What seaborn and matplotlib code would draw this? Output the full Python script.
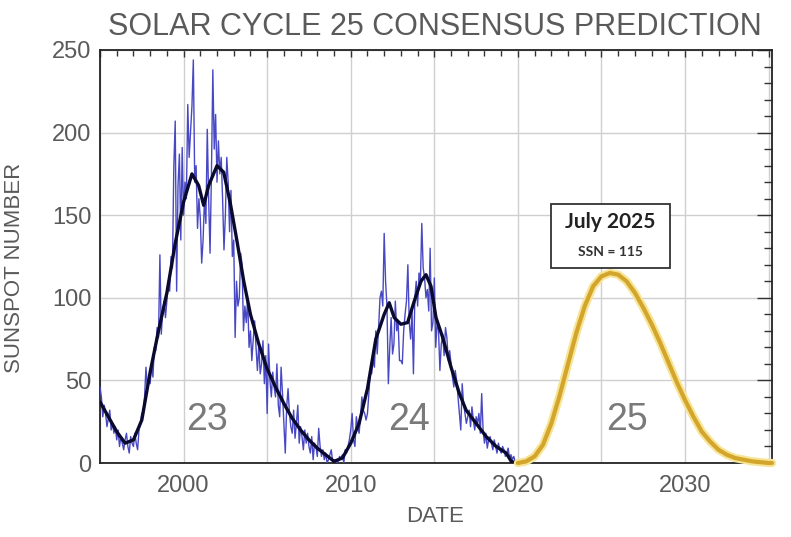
import numpy as np
import pandas as pd
import matplotlib
matplotlib.use("Agg")
import matplotlib.pyplot as plt
import seaborn as sns
from matplotlib.ticker import MultipleLocator, FuncFormatter
from matplotlib.patches import Rectangle

# ---------------- data ----------------
# Monthly sunspot numbers, Jan 1995 .. Dec 2019 (12 values per year)
monthly_ssn = [
    # 1995
    46, 40, 28, 35, 30, 22, 27, 32, 20, 24, 18, 22,
    # 1996
    14, 20, 10, 16, 12, 8, 14, 18, 10, 6, 16, 12,
    # 1997
    10, 18, 12, 8, 20, 24, 30, 28, 40, 58, 45, 52,
    # 1998
    48, 60, 52, 70, 68, 82, 76, 126, 78, 92, 98, 88,
    # 1999
    98, 110, 104, 125, 118, 180, 207, 104, 168, 187, 135, 191,
    # 2000
    150, 170, 160, 217, 185, 200, 216, 244, 170, 180, 142, 160,
    # 2001
    148, 121, 135, 160, 145, 202, 160, 127, 175, 238, 190, 211,
    # 2002
    170, 195, 175, 185, 160, 129, 150, 185, 170, 140, 165, 125,
    # 2003
    135, 76, 110, 95, 100, 127, 120, 80, 95, 85, 100, 70,
    # 2004
    80, 62, 75, 86, 70, 56, 72, 54, 60, 74, 48, 65,
    # 2005
    30, 72, 50, 40, 55, 46, 40, 60, 35, 28, 58, 42,
    # 2006
    24, 6, 34, 45, 30, 22, 18, 32, 15, 24, 35, 12,
    # 2007
    22, 16, 8, 20, 12, 18, 10, 6, 16, 2, 12, 10,
    # 2008
    4, 21, 10, 4, 8, 2, 6, 0, 2, 5, 8, 1,
    # 2009
    2, 1, 0, 1, 4, 3, 5, 0, 8, 6, 10, 14,
    # 2010
    20, 30, 14, 10, 28, 22, 18, 28, 40, 32, 30, 26,
    # 2011
    30, 42, 55, 54, 62, 58, 80, 66, 82, 100, 104, 95,
    # 2012
    139, 110, 95, 48, 70, 88, 66, 72, 98, 80, 86, 62,
    # 2013
    62, 60, 80, 90, 98, 120, 85, 75, 92, 54, 100, 110,
    # 2014
    95, 115, 110, 145, 118, 112, 100, 105, 92, 130, 80, 85,
    # 2015
    112, 70, 85, 80, 56, 72, 78, 65, 82, 76, 62, 68,
    # 2016
    60, 52, 46, 56, 50, 40, 30, 20, 48, 36, 30, 24,
    # 2017
    28, 32, 22, 34, 26, 20, 28, 24, 30, 18, 42, 20,
    # 2018
    12, 18, 9, 14, 16, 12, 8, 14, 10, 6, 12, 8,
    # 2019
    6, 10, 8, 4, 6, 9, 3, 5, 2, 4, 1, 0,
]
monthly_year = 1995 + np.arange(len(monthly_ssn)) / 12.0

# Smoothed sunspot number (cycles 23 and 24)
smooth_year = [1995.0, 1995.5, 1996.0, 1996.5, 1997.0, 1997.5, 1998.0, 1998.5,
               1999.0, 1999.5, 2000.0, 2000.5, 2000.9, 2001.2, 2001.5, 2002.0,
               2002.4, 2002.8, 2003.2, 2003.6, 2004.0, 2004.5, 2005.0, 2005.5,
               2006.0, 2006.5, 2007.0, 2007.5, 2008.0, 2008.5, 2009.0, 2009.5,
               2010.0, 2010.5, 2011.0, 2011.5, 2012.0, 2012.3, 2012.6, 2013.0,
               2013.4, 2013.8, 2014.2, 2014.5, 2014.8, 2015.1, 2015.5, 2016.0,
               2016.5, 2016.9, 2017.5, 2018.1, 2018.7, 2019.3, 2019.6, 2019.9]
smooth_ssn = [37, 28, 19, 12, 14, 26, 55, 80,
              103, 133, 158, 175, 168, 156, 168, 180,
              176, 157, 134, 110, 90, 72, 57, 46,
              36, 27, 20, 14, 9, 5, 1, 3,
              12, 24, 45, 75, 90, 97, 88, 84,
              85, 98, 110, 114, 107, 88, 76, 58,
              42, 32, 24, 16, 10, 6, 1, 0]

# Cycle 25 consensus prediction
pred_year = [2020.0, 2020.5, 2021.0, 2021.5, 2022.0, 2022.5, 2023.0, 2023.5,
             2024.0, 2024.5, 2025.0, 2025.5, 2026.0, 2026.5, 2027.0, 2027.5,
             2028.0, 2028.5, 2029.0, 2029.5, 2030.0, 2030.5, 2031.0, 2031.5,
             2032.0, 2032.5, 2033.0, 2033.5, 2034.0, 2034.5, 2035.0, 2035.2]
pred_ssn = [0, 1, 4, 11, 24, 41, 60, 79,
            95, 107, 113, 115, 114, 110, 103, 94,
            84, 73, 61, 49, 38, 28, 19, 13,
            8, 5, 3, 2, 1, 0.5, 0, 0]

cycle_labels = ["23", "24", "25"]
x_tick_years = [2000, 2010, 2020, 2030]

# ---------------- plot ----------------
sns.set_theme(style="white")
plt.rcParams["font.family"] = ["Liberation Sans", "DejaVu Sans"]

fig = plt.figure(figsize=(7.91, 5.37), dpi=100)
ax = fig.add_axes([100 / 791, (537 - 463) / 537, 672 / 791, 413 / 537])

grey_txt = "#5a5a5a"

sns.lineplot(x=monthly_year, y=monthly_ssn, ax=ax, color="#4848c4", lw=1.0,
             estimator=None, zorder=3)
sns.lineplot(x=smooth_year, y=smooth_ssn, ax=ax, color="#0a0a2e", lw=2.4,
             estimator=None, zorder=4)
sns.lineplot(x=pred_year, y=pred_ssn, ax=ax, color="#f6e596", lw=6.0,
             estimator=None, zorder=4, clip_on=False)
sns.lineplot(x=pred_year, y=pred_ssn, ax=ax, color="#d3a52c", lw=3.0,
             estimator=None, zorder=5, clip_on=False)

ax.set_xlim(1995, 2035.2)
ax.set_ylim(0, 250)

ax.xaxis.set_major_locator(MultipleLocator(5))
ax.xaxis.set_minor_locator(MultipleLocator(1))
ax.xaxis.set_major_formatter(FuncFormatter(
    lambda v, p: f"{int(round(v))}" if int(round(v)) in x_tick_years else ""))
ax.yaxis.set_major_locator(MultipleLocator(50))
ax.yaxis.set_minor_locator(MultipleLocator(10))

ax.grid(True, which="major", color="#cfcfcf", lw=1.0, zorder=0)
ax.set_axisbelow(True)

ax.tick_params(which="both", direction="in", top=True, right=True,
               color="#333333", labelcolor=grey_txt, labelsize=17)
ax.tick_params(axis="x", which="major", length=5, width=1, pad=9)
ax.tick_params(axis="x", which="minor", length=4, width=1)
ax.tick_params(axis="y", which="major", length=11, width=1, pad=6)
ax.tick_params(axis="y", which="minor", length=6, width=1)

for s in ax.spines.values():
    s.set_color("#222222")
    s.set_linewidth(1.3)

ax.set_xlabel("")
ax.set_ylabel("")

fig.text(435 / 791, 1 - 27 / 537, "SOLAR CYCLE 25 CONSENSUS PREDICTION",
         ha="center", va="center", fontsize=22, color=grey_txt)
fig.text(15 / 791, 1 - 268 / 537, "SUNSPOT NUMBER", rotation=90,
         ha="center", va="center", fontsize=16, color=grey_txt)
fig.text(435 / 791, 1 - 517 / 537, "DATE",
         ha="center", va="center", fontsize=16, color=grey_txt)

for lab, xx in zip(cycle_labels, [2001.4, 2013.5, 2026.5]):
    ax.text(xx, 26, lab, ha="center", va="center", fontsize=27,
            color="#7a7a7a", zorder=6)

box = Rectangle((2022.0, 118), 7.07, 39, facecolor="white",
                edgecolor="#333333", lw=1.3, zorder=7)
ax.add_patch(box)
ax.text(2025.55, 146, "July 2025", ha="center", va="center", fontsize=15,
        fontweight="bold", family=["Lato", "DejaVu Sans"], color="#222222",
        zorder=8)
ax.text(2025.55, 128, "SSN = 115", ha="center", va="center", fontsize=10,
        fontweight="bold", family=["Lato", "DejaVu Sans"], color="#333333",
        zorder=8)

fig.savefig("out.png", dpi=100, facecolor="white")
